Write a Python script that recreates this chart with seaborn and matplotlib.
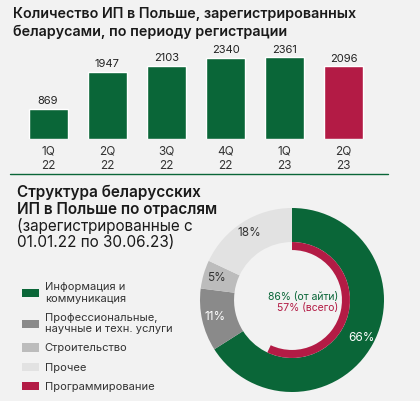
import seaborn as sns
import pandas as pd
import matplotlib.pyplot as plt
from matplotlib.lines import Line2D
from matplotlib.patches import Patch

# bar chart data
quarters = ['1Q\n22', '2Q\n22', '3Q\n22', '4Q\n22', '1Q\n23', '2Q\n23']
counts = [869, 1947, 2103, 2340, 2361, 2096]

# donut data
sectors = ['Информация и\nкоммуникация', 'Профессиональные,\nнаучные и техн. услуги',
           'Строительство', 'Прочее']
shares = [66, 11, 5, 18]
prog_share = 57
prog_of_it = 86

green = '#0a6638'
red = '#b31b45'
sector_colors = [green, '#8a8a8a', '#bcbcbc', '#e2e2e2']
bg = '#f2f2f2'

sns.set_style('white')
plt.rcParams['font.family'] = ['Inter', 'DejaVu Sans']

fig = plt.figure(figsize=(4.2, 4.01), dpi=100, facecolor=bg)

# ---- top: bars ----
ax = fig.add_axes([0.044, 0.653, 0.845, 0.234])
ax.set_facecolor('none')
df = pd.DataFrame({'q': quarters, 'n': counts})
bar_colors = [green] * (len(counts) - 1) + [red]
sns.barplot(data=df, x='q', y='n', hue='q', palette=bar_colors, legend=False,
            width=0.66, ax=ax, saturation=1)
for c in ax.containers:
    ax.bar_label(c, padding=2, fontsize=8, color='#222222')
ax.set_xlim(-0.5, 5.5)
ax.set_ylim(0, 2707)
ax.set_xlabel('')
ax.set_ylabel('')
ax.set_yticks([])
ax.tick_params(axis='x', length=0, pad=4.5, labelsize=8.5, labelcolor='#333333')
for lbl in ax.get_xticklabels():
    lbl.set_linespacing(1.25)
sns.despine(ax=ax, left=True, bottom=True)

fig.text(13 / 420, 1 - 7 / 401,
         'Количество ИП в Польше, зарегистрированных\nбеларусами, по периоду регистрации',
         ha='left', va='top', fontsize=10.3, fontweight='semibold', color='#1a1a1a',
         linespacing=1.35)
fig.add_artist(Line2D([10 / 420, 388 / 420], [1 - 174 / 401] * 2, color=green, lw=1))

# ---- bottom: donut ----
dax = fig.add_axes([(292 - 95) / 420, 1 - (300 + 95) / 401, 190 / 420, 190 / 401])
dax.set_facecolor('none')
wedges, texts, autotexts = dax.pie(shares, colors=sector_colors, startangle=90,
                                   counterclock=False, radius=1,
                                   wedgeprops=dict(width=0.37, linewidth=0),
                                   autopct='%d%%', pctdistance=0.86,
                                   textprops=dict(fontsize=8.5))
for t, col in zip(autotexts, ['white', 'white', '#333333', '#333333']):
    t.set_color(col)
dax.pie([prog_share, 100 - prog_share], colors=[red, 'none'], startangle=90,
        counterclock=False, radius=0.63, wedgeprops=dict(width=0.087, linewidth=0))
dax.text(0.5, 0.03, f'{prog_of_it}% (от айти)', ha='right', va='center',
         fontsize=7.5, color=green)
dax.text(0.5, -0.09, f'{prog_share}% (всего)', ha='right', va='center',
         fontsize=7.5, color=red)
dax.set_xlim(-95 / 92, 95 / 92)
dax.set_ylim(-95 / 92, 95 / 92)

fig.text(17 / 420, 1 - 185 / 401, 'Структура беларусских\nИП в Польше по отраслям',
         ha='left', va='top', fontsize=11, fontweight='semibold', color='#1a1a1a',
         linespacing=1.12)
fig.text(17 / 420, 1 - 218 / 401, '(зарегистрированные с\n01.01.22 по 30.06.23)',
         ha='left', va='top', fontsize=11, color='#1a1a1a', linespacing=1.12)

handles = [Patch(color=c, linewidth=0) for c in sector_colors + [red]]
fig.legend(handles, sectors + ['Программирование'], loc='upper left',
           bbox_to_anchor=(12 / 420, 1 - 272 / 401), frameon=False, fontsize=8,
           handlelength=1.5, handleheight=0.75, handletextpad=0.55,
           labelspacing=0.82, labelcolor='#333333')

fig.savefig('out.png', dpi=100, facecolor=bg)
